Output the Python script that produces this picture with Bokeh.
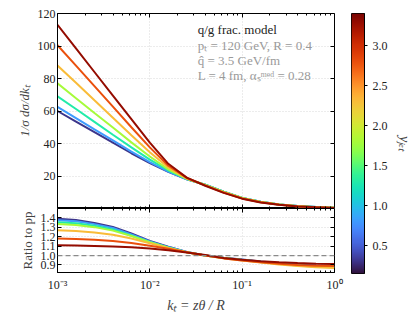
import numpy as np
from bokeh.plotting import figure
from bokeh.layouts import row, column
from bokeh.models import (FixedTicker, LinearAxis, LogAxis, Label, Span, Range1d,
                          LinearColorMapper, PrintfTickFormatter)
from bokeh.palettes import Turbo256
from bokeh.embed import file_html
from bokeh.resources import INLINE

# ---------------- data ----------------
kt = [1.0e-3, 1.585e-3, 2.512e-3, 3.981e-3, 6.310e-3, 1.0e-2, 1.585e-2, 2.512e-2,
      3.981e-2, 6.310e-2, 0.1, 0.1585, 0.2512, 0.3981, 0.6310, 1.0]

y_jet = [0.3, 0.8, 1.3, 1.8, 2.3, 2.8, 3.3]

dist_y03 = [60, 53.5, 47, 40.5, 34, 28, 22.5, 18, 14.6, 10.3, 6.5, 4.1, 2.5, 1.5, 0.85, 0.45]
dist_y08 = [62.5, 55.6, 48.7, 41.9, 35.0, 28.6, 22.7, 18.0, 14.6, 10.3, 6.5, 4.1, 2.5, 1.5, 0.85, 0.45]
dist_y13 = [69, 61.2, 53.3, 45.4, 37.6, 30.1, 23.4, 18.2, 14.6, 10.3, 6.5, 4.1, 2.5, 1.5, 0.85, 0.45]
dist_y18 = [77, 67.9, 58.8, 49.8, 40.7, 32.0, 24.1, 18.3, 14.5, 10.2, 6.45, 4.05, 2.5, 1.45, 0.8, 0.42]
dist_y23 = [88, 77.4, 66.6, 55.9, 45.1, 34.6, 25.2, 18.5, 14.4, 10.0, 6.3, 3.95, 2.4, 1.4, 0.78, 0.4]
dist_y28 = [100.5, 87.9, 75.3, 62.7, 50.0, 37.6, 26.3, 18.8, 14.2, 9.8, 6.2, 3.85, 2.35, 1.35, 0.75, 0.38]
dist_y33 = [113, 98.5, 84, 69.5, 55, 40.5, 27.5, 19, 14.0, 9.6, 6.05, 3.75, 2.3, 1.3, 0.72, 0.36]

ratio_y03 = [1.39, 1.378, 1.347, 1.304, 1.234, 1.156, 1.094, 1.039, 1.0, 0.976, 0.957, 0.937, 0.918, 0.903, 0.892, 0.885]
ratio_y08 = [1.375, 1.364, 1.334, 1.293, 1.225, 1.15, 1.09, 1.037, 1.0, 0.975, 0.955, 0.935, 0.915, 0.9, 0.888, 0.88]
ratio_y13 = [1.355, 1.344, 1.316, 1.277, 1.213, 1.142, 1.085, 1.036, 1.0, 0.975, 0.954, 0.933, 0.913, 0.897, 0.885, 0.878]
ratio_y18 = [1.335, 1.325, 1.302, 1.265, 1.208, 1.141, 1.084, 1.034, 1.0, 0.974, 0.952, 0.931, 0.911, 0.895, 0.882, 0.875]
ratio_y23 = [1.27, 1.262, 1.246, 1.221, 1.181, 1.13, 1.081, 1.035, 1.0, 0.972, 0.948, 0.926, 0.905, 0.888, 0.875, 0.868]
ratio_y28 = [1.18, 1.175, 1.167, 1.155, 1.133, 1.104, 1.072, 1.036, 1.0, 0.97, 0.948, 0.93, 0.913, 0.9, 0.893, 0.89]
ratio_y33 = [1.11, 1.107, 1.102, 1.096, 1.087, 1.075, 1.057, 1.033, 1.005, 0.975, 0.955, 0.94, 0.928, 0.92, 0.914, 0.91]

dists = [dist_y03, dist_y08, dist_y13, dist_y18, dist_y23, dist_y28, dist_y33]
ratios = [ratio_y03, ratio_y08, ratio_y13, ratio_y18, ratio_y23, ratio_y28, ratio_y33]

x_major = [1e-3, 1e-2, 1e-1, 1.0]
x_tick_labels = ["10⁻³", "10⁻²", "10⁻¹", "10⁰"]
y_main_ticks = [0, 20, 40, 60, 80, 100, 120]
y_ratio_ticks = [0.9, 1.0, 1.1, 1.2, 1.3, 1.4]
cbar_ticks = [0.5, 1.0, 1.5, 2.0, 2.5, 3.0]
cbar_low, cbar_high = 0.15, 3.4
x_lo, x_hi = 1e-3, 1.0
y_main_lo, y_main_hi = 0, 120
y_ratio_lo, y_ratio_hi = 0.82, 1.5

FONT = "Liberation Serif"

x_minor = [m * d for d in (1e-3, 1e-2, 1e-1) for m in range(2, 10)]


def xticker():
    return FixedTicker(ticks=x_major, minor_ticks=x_minor)


def style_axis(ax, labels=True):
    ax.axis_line_color = "black"
    ax.axis_line_width = 1
    ax.major_tick_in = 4
    ax.major_tick_out = 0
    ax.minor_tick_in = 2
    ax.minor_tick_out = 0
    ax.major_tick_line_color = "black"
    ax.minor_tick_line_color = "black"
    ax.major_label_text_font = FONT
    ax.major_label_text_color = "#222222"
    if labels:
        ax.major_label_text_font_size = "12px"
        ax.major_label_standoff = 2
    else:
        ax.major_label_text_font_size = "1px"
        ax.major_label_text_alpha = 0
        ax.major_label_standoff = 0


def color_for(v):
    i = int(round((v - cbar_low) / (cbar_high - cbar_low) * 255))
    return Turbo256[max(0, min(255, i))]


# ---------------- main panel ----------------
p1 = figure(width=346, height=208, x_axis_type="log", x_range=(x_lo, x_hi),
            y_range=(y_main_lo, y_main_hi),
            output_backend="svg", toolbar_location=None,
            min_border_left=57, min_border_right=12, min_border_top=13, min_border_bottom=0)
p1.outline_line_color = "black"

bx1 = p1.xaxis[0]
bx1.ticker = xticker()
style_axis(bx1, labels=False)
bx1.fixed_location = y_main_lo

ly1 = p1.yaxis[0]
ly1.ticker = FixedTicker(ticks=y_main_ticks, minor_ticks=[])
style_axis(ly1, labels=True)
ly1.major_label_overrides = {0: ""}
ly1.axis_label = "1/σ dσ/dkₜ"
ly1.axis_label_text_font = FONT
ly1.axis_label_text_font_size = "13px"
ly1.axis_label_text_font_style = "italic"
ly1.axis_label_standoff = 3

# the "0" label sits on the panel boundary: show it on a helper axis lifted a few pixels
# so that it is not clipped by the panel edge
lift = 4.3
p1.extra_y_ranges = {"zero": Range1d(y_main_lo - lift, y_main_hi - lift)}
zero_ax = LinearAxis(y_range_name="zero", ticker=FixedTicker(ticks=[0], minor_ticks=[]),
                     fixed_location=x_lo)
zero_ax.axis_line_color = None
zero_ax.major_tick_line_color = None
zero_ax.minor_tick_line_color = None
zero_ax.major_tick_in = 0
zero_ax.major_tick_out = 0
zero_ax.major_label_text_font = FONT
zero_ax.major_label_text_font_size = "12px"
zero_ax.major_label_text_color = "#222222"
zero_ax.major_label_standoff = 2
p1.add_layout(zero_ax, "left")

top1 = LogAxis(ticker=xticker(), fixed_location=y_main_hi)
style_axis(top1, labels=False)
p1.add_layout(top1, "above")
right1 = LinearAxis(ticker=FixedTicker(ticks=y_main_ticks, minor_ticks=[]), fixed_location=x_hi)
style_axis(right1, labels=False)
p1.add_layout(right1, "right")

for g in (p1.xgrid[0], p1.ygrid[0]):
    g.grid_line_color = "#cfcfcf"
    g.grid_line_dash = "1 2"
    g.grid_line_width = 0.8

for v, d in zip(y_jet, dists):
    p1.line(kt, d, line_color=color_for(v), line_width=2)

ann_x = 0.033
p1.add_layout(Label(x=ann_x, y=110, text="q/g frac. model", text_font=FONT,
                    text_font_size="13px", text_color="#222222", text_baseline="alphabetic"))
p1.add_layout(Label(x=ann_x, y=100.3, text="pₜ = 120 GeV, R = 0.4", text_font=FONT,
                    text_font_size="13px", text_color="#9a9a9a", text_baseline="alphabetic"))
p1.add_layout(Label(x=ann_x, y=91, text="q̂ = 3.5 GeV/fm", text_font=FONT,
                    text_font_size="13px", text_color="#9a9a9a", text_baseline="alphabetic"))
p1.add_layout(Label(x=ann_x, y=82, text="L = 4 fm, αₛᵐᵉᵈ = 0.28", text_font=FONT,
                    text_font_size="13px", text_color="#9a9a9a", text_baseline="alphabetic"))

# ---------------- ratio panel ----------------
p2 = figure(width=346, height=108, x_axis_type="log", x_range=p1.x_range,
            y_range=(y_ratio_lo, y_ratio_hi),
            output_backend="svg", toolbar_location=None,
            min_border_left=57, min_border_right=12, min_border_top=0, min_border_bottom=44)
p2.outline_line_color = "black"
bx2 = p2.xaxis[0]
bx2.ticker = xticker()
style_axis(bx2, labels=True)
bx2.major_label_overrides = dict(zip(x_major, x_tick_labels))
bx2.major_label_standoff = 5
bx2.axis_label = "kₜ = zθ / R"
bx2.axis_label_text_font = FONT
bx2.axis_label_text_font_size = "14px"
bx2.axis_label_text_font_style = "italic"
bx2.axis_label_standoff = 3

ly2 = p2.yaxis[0]
ly2.ticker = FixedTicker(ticks=y_ratio_ticks, minor_ticks=[])
style_axis(ly2, labels=True)
ly2.formatter = PrintfTickFormatter(format="%.1f")
ly2.axis_label = "Ratio to pp"
ly2.axis_label_text_font = FONT
ly2.axis_label_text_font_size = "13px"
ly2.axis_label_text_font_style = "normal"
ly2.axis_label_standoff = 3

top2 = LogAxis(ticker=xticker(), fixed_location=y_ratio_hi)
style_axis(top2, labels=False)
p2.add_layout(top2, "above")
right2 = LinearAxis(ticker=FixedTicker(ticks=y_ratio_ticks, minor_ticks=[]), fixed_location=x_hi)
style_axis(right2, labels=False)
p2.add_layout(right2, "right")

for g in (p2.xgrid[0], p2.ygrid[0]):
    g.grid_line_color = "#cfcfcf"
    g.grid_line_dash = "1 2"
    g.grid_line_width = 0.8

p2.add_layout(Span(location=1.0, dimension="width", line_color="#8a8a8a",
                   line_dash="5 3", line_width=1.2))

for v, r in zip(y_jet, ratios):
    p2.line(kt, r, line_color=color_for(v), line_width=2)

# ---------------- colour bar ----------------
p3 = figure(width=70, height=316, x_range=(0, 1), y_range=(cbar_low, cbar_high),
            y_axis_location="right", output_backend="svg", toolbar_location=None,
            min_border_left=5, min_border_right=52, min_border_top=13, min_border_bottom=43)
p3.outline_line_color = "black"
p3.xaxis.visible = False
p3.grid.visible = False
mapper = LinearColorMapper(palette=Turbo256, low=cbar_low, high=cbar_high)
grad = np.linspace(cbar_low, cbar_high, 256).reshape(256, 1)
p3.image(image=[grad], x=0, y=cbar_low, dw=1, dh=cbar_high - cbar_low, color_mapper=mapper)
ya = p3.yaxis[0]
ya.ticker = FixedTicker(ticks=cbar_ticks, minor_ticks=[])
ya.formatter = PrintfTickFormatter(format="%.1f")
ya.axis_line_color = "black"
ya.major_tick_in = 0
ya.major_tick_out = 3
ya.minor_tick_out = 0
ya.major_label_text_font = FONT
ya.major_label_text_font_size = "12px"
ya.major_label_text_color = "#222222"
ya.major_label_standoff = 5
ya.axis_label = "yⱼₑₜ"
ya.axis_label_text_font = FONT
ya.axis_label_text_font_size = "14px"
ya.axis_label_text_font_style = "italic"
ya.axis_label_standoff = 6

layout = row(column(p1, p2), p3)
open("out.html", "w").write(file_html(layout, INLINE))
